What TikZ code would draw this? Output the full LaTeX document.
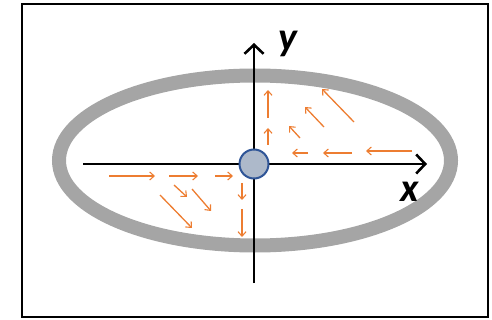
\documentclass[tikz,border=0pt]{standalone}
\usepackage{fontspec}
\setmainfont{Carlito}
\usetikzlibrary{arrows.meta}
\definecolor{ringgray}{HTML}{A5A5A5}
\definecolor{vecorange}{HTML}{ED7D31}
\definecolor{dotfill}{HTML}{ADB9CA}
\definecolor{dotline}{HTML}{2F5597}
\tikzset{
  axis/.style={line width=2.6pt,-{Straight Barb[length=9pt,width=19pt,line width=2.6pt]}},
  vec/.style={vecorange,line width=1.3pt,-{Straight Barb[length=4.5pt,width=8pt,line width=1.1pt]}},
  lab/.style={font=\fontsize{40}{40}\selectfont\bfseries\itshape,inner sep=0pt}
}
\begin{document}
\begin{tikzpicture}[x=1pt,y=-1pt]
\useasboundingbox (0,0) rectangle (492,320);
\draw[line width=1.8pt] (22,4) rectangle (488,317);
\draw[ringgray,line width=14pt] (255,160.5) ellipse [x radius=196,y radius=85];
\coordinate (xs) at (83,164);
\coordinate (xe) at (427,164);
\coordinate (ys) at (254,283);
\coordinate (ye) at (254,43);
\draw[axis] (xs) -- (xe);
\draw[axis] (ys) -- (ye);
\node[circle,draw=dotline,fill=dotfill,line width=2pt,minimum size=29pt,inner sep=0pt] (o) at (254,164) {};
\node[lab] (ly) at (288,44) {y};
\node[lab] (lx) at (410,192) {x};
% upper right field
\draw[vec] (412,151) -- (366,151);
\draw[vec] (352,153) -- (323,153);
\draw[vec] (308,153) -- (292,153);
\draw[vec] (268,145) -- (268,128);
\draw[vec] (268,118) -- (268,90);
\draw[vec] (300,138) -- (289,126);
\draw[vec] (324,127) -- (305,107);
\draw[vec] (354,122) -- (322,89);
% lower left field
\draw[vec] (109,176) -- (155,176);
\draw[vec] (169,176) -- (198,176);
\draw[vec] (215,176) -- (233,176);
\draw[vec] (242,183) -- (242,200);
\draw[vec] (242,209) -- (242,237);
\draw[vec] (174,185) -- (187,197);
\draw[vec] (192,189) -- (211,211);
\draw[vec] (160,195) -- (192,228);
\end{tikzpicture}
\end{document}
